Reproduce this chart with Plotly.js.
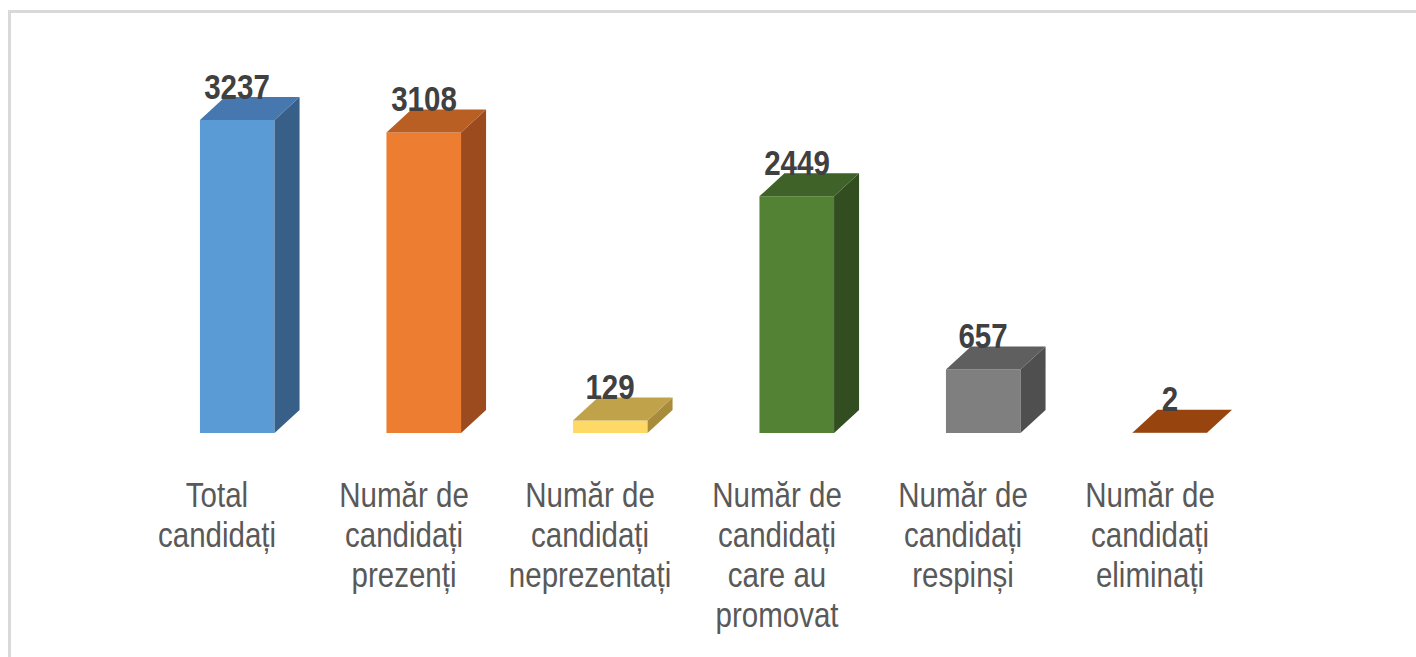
<!DOCTYPE html>
<html>
<head>
<meta charset="utf-8">
<script src="https://cdn.plot.ly/plotly-3.0.1.min.js"></script>
<style>
  html, body { margin: 0; padding: 0; background: #ffffff; overflow: hidden; }
  #frame { position: absolute; left: 8px; top: 10px; width: 1420px; height: 670px; border: 3px solid #d9d9d9; box-sizing: border-box; }
  #chart { position: absolute; left: 0; top: 0; width: 1416px; height: 657px; }
</style>
</head>
<body>
<div id="frame"></div>
<div id="chart"></div>
<script>
// ---- data ----
const categories = [
  "Total\ncandidați",
  "Număr de\ncandidați\nprezenți",
  "Număr de\ncandidați\nneprezentați",
  "Număr de\ncandidați\ncare au\npromovat",
  "Număr de\ncandidați\nrespinși",
  "Număr de\ncandidați\neliminați"
];
const values = [3237, 3108, 129, 2449, 657, 2];

// ---- styles ----
const frontColors = ["#5B9BD5", "#ED7D31", "#FFD966", "#548235", "#7F7F7F", "#9E480E"];
const topColors   = ["#4677AF", "#B95F23", "#C0A24B", "#3E6228", "#5F5F5F", "#97440F"];
const sideColors  = ["#375F87", "#9B4B1E", "#A88C3C", "#324E20", "#4F4F4F", "#7E390C"];

const FONT = '"Liberation Sans", Arial, sans-serif';
const NARROW = 0.82; // Arial Narrow look: horizontally condensed Arial
const W = 1416, H = 657;
const margin = { l: 144.25, r: 152.75, t: 85, b: 223.5 };
const yMax = 3600;
const barWidth = 0.4;
const plotW = W - margin.l - margin.r, plotH = H - margin.t - margin.b;
const nCat = categories.length;
const depthPx = { x: 25, y: 23 };
const dx = depthPx.x * nCat / plotW;       // depth in category units
const dy = depthPx.y * yMax / plotH;       // depth in value units

const xs = values.map((_, i) => i);

const traces = [{
  type: "bar",
  x: xs,
  y: values,
  width: barWidth,
  marker: { color: frontColors, line: { width: 0 } },
  hoverinfo: "skip"
}];

values.forEach((v, i) => {
  const xl = i - barWidth / 2, xr = i + barWidth / 2;
  // side face
  traces.push({
    type: "scatter", mode: "lines", fill: "toself", cliponaxis: false,
    x: [xr, xr + dx, xr + dx, xr, xr],
    y: [0, dy, v + dy, v, 0],
    fillcolor: sideColors[i], line: { width: 0, color: sideColors[i] },
    hoverinfo: "skip", showlegend: false
  });
  // top face
  traces.push({
    type: "scatter", mode: "lines", fill: "toself", cliponaxis: false,
    x: [xl, xr, xr + dx, xl + dx, xl],
    y: [v, v, v + dy, v + dy, v],
    fillcolor: topColors[i], line: { width: 0, color: topColors[i] },
    hoverinfo: "skip", showlegend: false
  });
});

const annotations = [];
values.forEach((v, i) => {
  annotations.push({
    x: i, y: v, xref: "x", yref: "y", showarrow: false,
    text: String(v), yshift: 34,
    font: { family: FONT, size: 36, color: "#404040", weight: 700 }
  });
});
categories.forEach((c, i) => {
  c.split("\n").forEach((line, k) => {
    annotations.push({
      x: i, y: 0, xref: "x", yref: "y", showarrow: false,
      text: line, xshift: -20, yshift: -(61.5 + 40 * k),
      font: { family: FONT, size: 36, color: "#595959" }
    });
  });
});

const layout = {
  width: W, height: H,
  margin: margin,
  paper_bgcolor: "rgba(0,0,0,0)",
  plot_bgcolor: "rgba(0,0,0,0)",
  showlegend: false,
  xaxis: { range: [-0.5, nCat - 0.5], showgrid: false, zeroline: false, showline: false,
           showticklabels: false, ticks: "", fixedrange: true },
  yaxis: { range: [0, yMax], showgrid: false, zeroline: false, showline: false,
           showticklabels: false, ticks: "", fixedrange: true },
  annotations: annotations,
  font: { family: FONT }
};

Plotly.newPlot("chart", traces, layout, { displayModeBar: false, staticPlot: true }).then(gd => {
  gd.querySelectorAll("text.annotation-text").forEach(t => {
    t.style.transformBox = "fill-box";
    t.style.transformOrigin = "center";
    t.style.transform = "scaleX(" + NARROW + ")";
  });
});
</script>
</body>
</html>
